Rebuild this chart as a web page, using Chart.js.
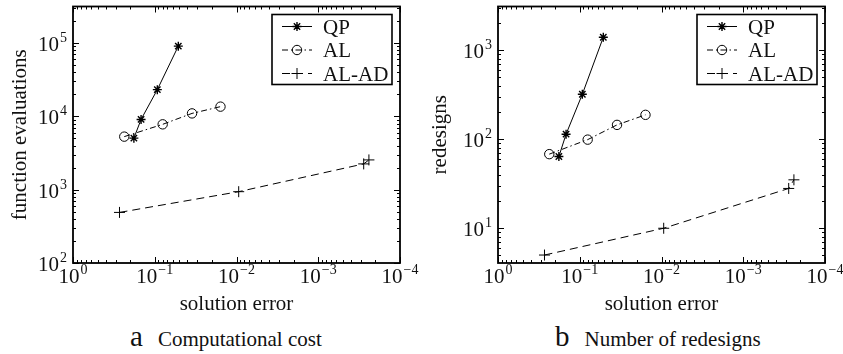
<!DOCTYPE html>
<html>
<head>
<meta charset="utf-8">
<script src="https://cdn.jsdelivr.net/npm/chart.js@4"></script>
<style>
  body { margin: 0; background: #fff; width: 843px; height: 354px; position: relative; overflow: hidden; }
  canvas { position: absolute; top: 0; }
  #costChart { left: 0; }
  #redesignChart { left: 420px; }
  .cap { position: absolute; top: 320px; white-space: nowrap; color: #111;
         font-family: "Liberation Serif", "Times New Roman", serif; display: flex; align-items: baseline; }
  .cap .tag { font-size: 29px; margin-right: 15px; }
  .cap .txt { font-size: 21px; }
</style>
</head>
<body>
<canvas id="costChart" width="420" height="320"></canvas>
<canvas id="redesignChart" width="423" height="320"></canvas>
<div class="cap" style="left:130px"><span class="tag">a</span><span class="txt">Computational cost</span></div>
<div class="cap" style="left:555px"><span class="tag">b</span><span class="txt">Number of redesigns</span></div>
<script>
// solution error (shared by both panels)
const errQP = [0.18, 0.147, 0.093, 0.0515];
const errAL = [0.236, 0.080, 0.035, 0.0157];
const errALAD = [0.27, 0.0094, 2.78e-4, 2.4e-4];

// a: function evaluations
const evalsQP = [5050, 9100, 23200, 91000];
const evalsAL = [5300, 7800, 11000, 13600];
const evalsALAD = [490, 940, 2250, 2550];

// b: redesigns
const redesQP = [64, 114, 320, 1400];
const redesAL = [68, 99, 145, 188];
const redesALAD = [5, 10, 28, 35];

const seriesNames = ['QP', 'AL', 'AL-AD'];
const xTicks = [1, 0.1, 0.01, 0.001, 0.0001];
const yTicksCost = [100, 1000, 10000, 100000];
const yTicksRedes = [10, 100, 1000];

const FONT = '"Liberation Serif", "Times New Roman", serif';
Chart.defaults.font.family = FONT;
Chart.defaults.color = '#000';

const pts = (xs, ys) => xs.map((x, i) => ({ x: x, y: ys[i] }));

function minorTicks(min, max) {
  const out = [];
  for (let d = Math.floor(Math.log10(min)); d <= Math.ceil(Math.log10(max)); d++) {
    for (let k = 2; k <= 9; k++) {
      const v = k * Math.pow(10, d);
      if (v >= min && v <= max) out.push(v);
    }
  }
  return out;
}

function drawPow(ctx, x, y, v, align) {
  const base = '10';
  const sup = String(Math.round(Math.log10(v))).replace('-', '\u2212');
  ctx.font = '21px ' + FONT;
  const wb = ctx.measureText(base).width;
  ctx.font = '14px ' + FONT;
  const ws = ctx.measureText(sup).width;
  const w = wb + 1 + ws;
  const left = align === 'center' ? x - w / 2 : x - w;
  ctx.textAlign = 'left';
  ctx.textBaseline = 'alphabetic';
  ctx.font = '21px ' + FONT;
  ctx.fillText(base, left, y);
  ctx.font = '14px ' + FONT;
  ctx.fillText(sup, left + wb + 1, y - 9);
}

function marker(ctx, style, r, x, y, lw) {
  ctx.lineWidth = lw;
  ctx.beginPath();
  if (style === 'circle') {
    ctx.arc(x, y, r, 0, Math.PI * 2);
  } else {
    const n = style === 'star' ? 4 : 2;
    for (let i = 0; i < n; i++) {
      const a = i * Math.PI / n;
      ctx.moveTo(x - r * Math.cos(a), y - r * Math.sin(a));
      ctx.lineTo(x + r * Math.cos(a), y + r * Math.sin(a));
    }
  }
  ctx.stroke();
}

const boxPlugin = {
  id: 'box',
  afterDraw(chart) {
    const ctx = chart.ctx;
    const a = chart.chartArea;
    const xs = chart.scales.x, ys = chart.scales.y;
    ctx.save();
    ctx.strokeStyle = '#000';
    ctx.fillStyle = '#111';

    // ticks on all four sides, pointing in
    ctx.lineWidth = 1;
    ctx.beginPath();
    xs.ticks.forEach(t => {
      const px = Math.round(xs.getPixelForValue(t.value)) + 0.5;
      ctx.moveTo(px, a.bottom); ctx.lineTo(px, a.bottom - 6);
      ctx.moveTo(px, a.top); ctx.lineTo(px, a.top + 6);
    });
    minorTicks(xs.min, xs.max).forEach(v => {
      const px = Math.round(xs.getPixelForValue(v)) + 0.5;
      ctx.moveTo(px, a.bottom); ctx.lineTo(px, a.bottom - 3);
      ctx.moveTo(px, a.top); ctx.lineTo(px, a.top + 3);
    });
    ys.ticks.forEach(t => {
      const py = Math.round(ys.getPixelForValue(t.value)) + 0.5;
      ctx.moveTo(a.left, py); ctx.lineTo(a.left + 6, py);
      ctx.moveTo(a.right, py); ctx.lineTo(a.right - 6, py);
    });
    minorTicks(ys.min, ys.max).forEach(v => {
      const py = Math.round(ys.getPixelForValue(v)) + 0.5;
      ctx.moveTo(a.left, py); ctx.lineTo(a.left + 3, py);
      ctx.moveTo(a.right, py); ctx.lineTo(a.right - 3, py);
    });
    ctx.stroke();

    ctx.lineWidth = 1.8;
    ctx.strokeRect(a.left, a.top, a.right - a.left, a.bottom - a.top);

    // tick labels with superscript exponents
    xs.ticks.forEach(t => drawPow(ctx, xs.getPixelForValue(t.value), a.bottom + 20, t.value, 'center'));
    ys.ticks.forEach(t => drawPow(ctx, a.left - 6, ys.getPixelForValue(t.value) + 8, t.value, 'right'));

    // legend box in the top right corner
    const bw = 120, bh = 70;
    const bx = a.right - 8 - bw, by = a.top + 8;
    ctx.fillStyle = '#fff';
    ctx.fillRect(bx, by, bw, bh);
    ctx.lineWidth = 1.6;
    ctx.strokeRect(bx, by, bw, bh);
    chart.data.datasets.forEach((ds, i) => {
      const ry = by + 12 + i * 23.5;
      ctx.lineWidth = 1;
      ctx.setLineDash(ds.borderDash || []);
      ctx.beginPath();
      ctx.moveTo(bx + 10, ry); ctx.lineTo(bx + 40, ry);
      ctx.stroke();
      ctx.setLineDash([]);
      marker(ctx, ds.pointStyle, ds.pointRadius, bx + 25, ry, ds.pointBorderWidth);
      ctx.fillStyle = '#111';
      ctx.font = '21px ' + FONT;
      ctx.textAlign = 'left';
      ctx.textBaseline = 'alphabetic';
      ctx.fillText(ds.label, bx + 51, ry + 7);
    });
    ctx.restore();
  }
};

function makeChart(id, yTitle, yMin, yMax, yTicks, yWidth, padRight, qp, al, alad) {
  const common = { showLine: true, tension: 0, borderColor: '#000', borderWidth: 1,
                   pointBorderColor: '#000', pointBackgroundColor: 'rgba(0,0,0,0)', pointBorderWidth: 1 };
  return new Chart(document.getElementById(id), {
    type: 'scatter',
    data: {
      datasets: [
        Object.assign({}, common, { label: seriesNames[0], data: pts(errQP, qp), pointStyle: 'star', pointRadius: 4.5, pointBorderWidth: 1.4 }),
        Object.assign({}, common, { label: seriesNames[1], data: pts(errAL, al), pointStyle: 'circle', pointRadius: 4.7, borderDash: [6, 3, 1.5, 3] }),
        Object.assign({}, common, { label: seriesNames[2], data: pts(errALAD, alad), pointStyle: 'cross', pointRadius: 5.5, borderDash: [8, 5] })
      ]
    },
    options: {
      responsive: false,
      animation: false,
      devicePixelRatio: 1,
      events: [],
      layout: { padding: { left: 0, right: padRight, top: 5, bottom: 0 } },
      plugins: { legend: { display: false }, tooltip: { enabled: false } },
      scales: {
        x: {
          type: 'logarithmic', reverse: true, min: 1e-4, max: 1,
          afterBuildTicks: s => { s.ticks = xTicks.map(v => ({ value: v })); },
          afterFit: s => { s.height = 57; },
          ticks: { display: false }, grid: { display: false }, border: { display: false },
          title: { display: true, text: 'solution error', color: '#111', font: { size: 21 }, padding: { top: 0, bottom: 3 } }
        },
        y: {
          type: 'logarithmic', min: yMin, max: yMax,
          afterBuildTicks: s => { s.ticks = yTicks.map(v => ({ value: v })); },
          afterFit: s => { s.width = yWidth; },
          ticks: { display: false }, grid: { display: false }, border: { display: false },
          title: { display: true, text: yTitle, color: '#111', font: { size: 21 }, padding: { top: 8, bottom: 0 } }
        }
      }
    },
    plugins: [boxPlugin]
  });
}

makeChart('costChart', 'function evaluations', 100, 316228, yTicksCost, 73, 20, evalsQP, evalsAL, evalsALAD);
makeChart('redesignChart', 'redesigns', 4.07, 3100, yTicksRedes, 78, 18, redesQP, redesAL, redesALAD);
</script>
</body>
</html>
